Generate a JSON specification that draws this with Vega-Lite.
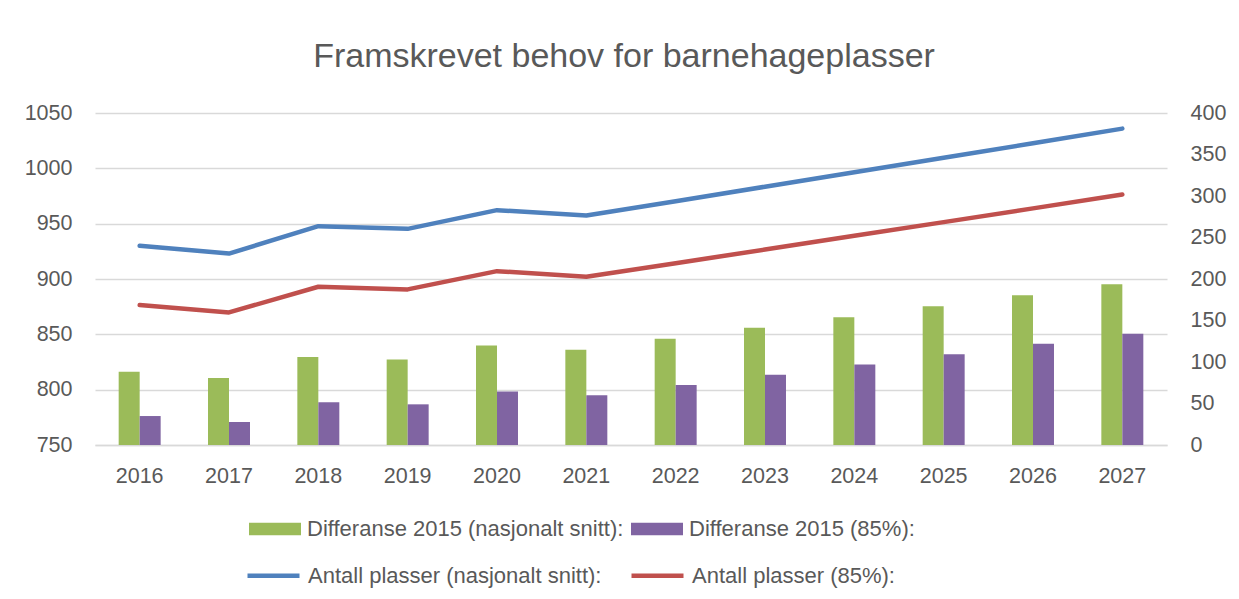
{
  "$schema": "https://vega.github.io/schema/vega-lite/v6.json",
  "width": 1072,
  "height": 332,
  "autosize": {"type": "none"},
  "padding": {"left": 95, "top": 113, "right": 72, "bottom": 154},
  "background": "white",
  "title": {
    "text": "Framskrevet behov for barnehageplasser",
    "font": "Liberation Sans",
    "fontSize": 34,
    "fontWeight": "normal",
    "color": "#595959",
    "anchor": "middle",
    "frame": "group",
    "baseline": "alphabetic",
    "offset": 1,
    "dx": -7
  },
  "datasets": {
    "bars": [
      {"year": "2016", "serie": "Differanse 2015 (nasjonalt snitt):", "value": 88.2},
      {"year": "2017", "serie": "Differanse 2015 (nasjonalt snitt):", "value": 80.6},
      {"year": "2018", "serie": "Differanse 2015 (nasjonalt snitt):", "value": 105.9},
      {"year": "2019", "serie": "Differanse 2015 (nasjonalt snitt):", "value": 103.1},
      {"year": "2020", "serie": "Differanse 2015 (nasjonalt snitt):", "value": 120.0},
      {"year": "2021", "serie": "Differanse 2015 (nasjonalt snitt):", "value": 114.7},
      {"year": "2022", "serie": "Differanse 2015 (nasjonalt snitt):", "value": 128.0},
      {"year": "2023", "serie": "Differanse 2015 (nasjonalt snitt):", "value": 141.2},
      {"year": "2024", "serie": "Differanse 2015 (nasjonalt snitt):", "value": 154.0},
      {"year": "2025", "serie": "Differanse 2015 (nasjonalt snitt):", "value": 167.3},
      {"year": "2026", "serie": "Differanse 2015 (nasjonalt snitt):", "value": 180.5},
      {"year": "2027", "serie": "Differanse 2015 (nasjonalt snitt):", "value": 193.8},
      {"year": "2016", "serie": "Differanse 2015 (85%):", "value": 34.9},
      {"year": "2017", "serie": "Differanse 2015 (85%):", "value": 27.7},
      {"year": "2018", "serie": "Differanse 2015 (85%):", "value": 51.4},
      {"year": "2019", "serie": "Differanse 2015 (85%):", "value": 49.0},
      {"year": "2020", "serie": "Differanse 2015 (85%):", "value": 64.6},
      {"year": "2021", "serie": "Differanse 2015 (85%):", "value": 59.8},
      {"year": "2022", "serie": "Differanse 2015 (85%):", "value": 72.2},
      {"year": "2023", "serie": "Differanse 2015 (85%):", "value": 84.6},
      {"year": "2024", "serie": "Differanse 2015 (85%):", "value": 97.1},
      {"year": "2025", "serie": "Differanse 2015 (85%):", "value": 109.2},
      {"year": "2026", "serie": "Differanse 2015 (85%):", "value": 121.9},
      {"year": "2027", "serie": "Differanse 2015 (85%):", "value": 134.0}
    ],
    "lines": [
      {"year": "2016", "serie": "Antall plasser (nasjonalt snitt):", "value": 930.0},
      {"year": "2017", "serie": "Antall plasser (nasjonalt snitt):", "value": 923.0},
      {"year": "2018", "serie": "Antall plasser (nasjonalt snitt):", "value": 947.7},
      {"year": "2019", "serie": "Antall plasser (nasjonalt snitt):", "value": 945.3},
      {"year": "2020", "serie": "Antall plasser (nasjonalt snitt):", "value": 962.2},
      {"year": "2021", "serie": "Antall plasser (nasjonalt snitt):", "value": 957.4},
      {"year": "2022", "serie": "Antall plasser (nasjonalt snitt):", "value": 970.3},
      {"year": "2023", "serie": "Antall plasser (nasjonalt snitt):", "value": 983.4},
      {"year": "2024", "serie": "Antall plasser (nasjonalt snitt):", "value": 996.5},
      {"year": "2025", "serie": "Antall plasser (nasjonalt snitt):", "value": 1009.5},
      {"year": "2026", "serie": "Antall plasser (nasjonalt snitt):", "value": 1022.7},
      {"year": "2027", "serie": "Antall plasser (nasjonalt snitt):", "value": 1035.9},
      {"year": "2016", "serie": "Antall plasser (85%):", "value": 876.4},
      {"year": "2017", "serie": "Antall plasser (85%):", "value": 869.8},
      {"year": "2018", "serie": "Antall plasser (85%):", "value": 893.0},
      {"year": "2019", "serie": "Antall plasser (85%):", "value": 890.6},
      {"year": "2020", "serie": "Antall plasser (85%):", "value": 907.1},
      {"year": "2021", "serie": "Antall plasser (85%):", "value": 902.0},
      {"year": "2022", "serie": "Antall plasser (85%):", "value": 914.3},
      {"year": "2023", "serie": "Antall plasser (85%):", "value": 926.6},
      {"year": "2024", "serie": "Antall plasser (85%):", "value": 939.1},
      {"year": "2025", "serie": "Antall plasser (85%):", "value": 951.4},
      {"year": "2026", "serie": "Antall plasser (85%):", "value": 963.8},
      {"year": "2027", "serie": "Antall plasser (85%):", "value": 976.3}
    ]
  },
  "layer": [
    {
      "data": {"name": "bars"},
      "mark": {"type": "bar"},
      "encoding": {
        "x": {
          "field": "year",
          "type": "nominal",
          "title": null,
          "scale": {"paddingInner": 0.53, "paddingOuter": 0.265},
          "axis": {
            "labelAngle": 0,
            "labelFont": "Liberation Sans",
            "labelFontSize": 21.5,
            "labelColor": "#595959",
            "labelPadding": 20,
            "ticks": false,
            "domainColor": "#D9D9D9",
            "domainWidth": 1.5,
            "grid": false
          }
        },
        "xOffset": {
          "field": "serie",
          "type": "nominal",
          "sort": ["Differanse 2015 (nasjonalt snitt):", "Differanse 2015 (85%):"]
        },
        "y": {
          "field": "value",
          "type": "quantitative",
          "title": null,
          "scale": {"domain": [0, 400], "nice": false},
          "axis": {
            "orient": "right",
            "values": [0, 50, 100, 150, 200, 250, 300, 350, 400],
            "format": "d",
            "labelFont": "Liberation Sans",
            "labelFontSize": 21.5,
            "labelColor": "#595959",
            "labelPadding": 23,
            "ticks": false,
            "domain": false,
            "grid": false
          }
        },
        "color": {
          "field": "serie",
          "type": "nominal",
          "scale": {
            "domain": ["Differanse 2015 (nasjonalt snitt):", "Differanse 2015 (85%):"],
            "range": ["#9BBB59", "#8064A2"]
          },
          "legend": {
            "title": null,
            "orient": "none",
            "direction": "horizontal",
            "legendX": 154,
            "legendY": 390,
            "padding": 0,
            "symbolType": "M-1,-0.244H1V0.244H-1Z",
            "symbolSize": 2704,
            "symbolStrokeWidth": 0,
            "symbolOpacity": 1,
            "labelFont": "Liberation Sans",
            "labelFontSize": 22,
            "labelColor": "#595959",
            "labelOffset": 6,
            "labelLimit": 0,
            "columnPadding": 7
          }
        }
      }
    },
    {
      "data": {"name": "lines"},
      "mark": {"type": "line", "strokeWidth": 4.5, "strokeCap": "round", "strokeJoin": "round"},
      "encoding": {
        "x": {"field": "year", "type": "nominal"},
        "y": {
          "field": "value",
          "type": "quantitative",
          "title": null,
          "scale": {"domain": [750, 1050], "nice": false, "zero": false},
          "axis": {
            "orient": "left",
            "values": [750, 800, 850, 900, 950, 1000, 1050],
            "format": "d",
            "labelFont": "Liberation Sans",
            "labelFontSize": 21.5,
            "labelColor": "#595959",
            "labelPadding": 23,
            "ticks": false,
            "domain": false,
            "grid": true,
            "gridColor": "#D9D9D9",
            "gridWidth": 1.3
          }
        },
        "color": {
          "field": "serie",
          "type": "nominal",
          "scale": {
            "domain": ["Antall plasser (nasjonalt snitt):", "Antall plasser (85%):"],
            "range": ["#4F81BD", "#C0504D"]
          },
          "legend": {
            "title": null,
            "orient": "none",
            "direction": "horizontal",
            "legendX": 150,
            "legendY": 434,
            "padding": 0,
            "symbolType": "stroke",
            "symbolSize": 2704,
            "symbolStrokeWidth": 4.5,
            "labelFont": "Liberation Sans",
            "labelFontSize": 22,
            "labelColor": "#595959",
            "labelOffset": 6,
            "labelLimit": 0,
            "columnPadding": 20
          }
        }
      }
    }
  ],
  "resolve": {"scale": {"y": "independent", "color": "independent"}},
  "config": {
    "view": {"stroke": null},
    "font": "Liberation Sans"
  }
}
